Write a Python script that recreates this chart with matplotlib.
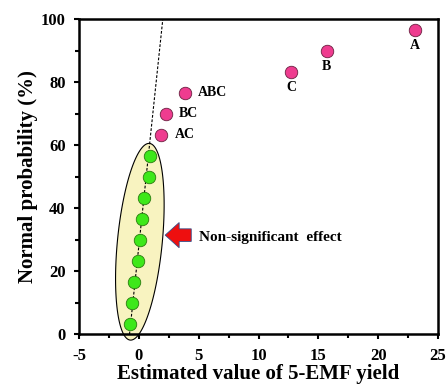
import numpy as np
import matplotlib
matplotlib.use("Agg")
import matplotlib.pyplot as plt
from matplotlib.patches import Polygon, FancyArrow

plt.rcParams['font.family'] = ['Liberation Serif', 'DejaVu Serif']
plt.rcParams['font.weight'] = 'bold'
plt.rcParams['axes.unicode_minus'] = False

# Normal probability plot of effects (15 effects)
green_x = [-0.75, -0.61, -0.42, -0.11, 0.06, 0.25, 0.42, 0.84, 0.90]
green_y = [3.33, 10.0, 16.67, 23.33, 30.0, 36.67, 43.33, 50.0, 56.67]

sig_labels = ['AC', 'BC', 'ABC', 'C', 'B', 'A']
sig_x = [1.87, 2.23, 3.84, 12.73, 15.7, 23.1]
sig_y = [63.33, 70.0, 76.67, 83.33, 90.0, 96.67]

# reference line of the normal distribution
line_x = [-0.78, 2.0]
line_y = [0, 100]

x_ticks = [-5, 0, 5, 10, 15, 20, 25]
y_ticks = [0, 20, 40, 60, 80, 100]

W, H = 446, 392
fig = plt.figure(figsize=(W / 100, H / 100), dpi=100)
ax_l, ax_r, ax_t, ax_b = 79, 438, 19.5, 334.3
ax = fig.add_axes([ax_l / W, 1 - ax_b / H, (ax_r - ax_l) / W, (ax_b - ax_t) / H])

ax.set_xlim(-5, 25)
ax.set_ylim(0, 100)

# shaded ellipse around the non-significant effects, built in screen units
sx = (ax_r - ax_l) / 30.0
sy = (ax_b - ax_t) / 100.0
gx = np.array(green_x)
gy = np.array(green_y)
cx = gx.mean() + 0.02
cy = (gy.min() + gy.max()) / 2 - 0.6
a_px, b_px = 98.8, 22.4
tilt = np.deg2rad(5.6)
t = np.linspace(0, 2 * np.pi, 300)
ex = a_px * np.cos(t) * np.sin(tilt) + b_px * np.sin(t) * np.cos(tilt)
ey = a_px * np.cos(t) * np.cos(tilt) - b_px * np.sin(t) * np.sin(tilt)
pts = np.column_stack([cx + ex / sx, cy + ey / sy])
ax.add_patch(Polygon(pts, closed=True, facecolor='#f8f3c0', edgecolor='black',
                     linewidth=0.8, zorder=1, clip_on=False))

ax.plot(line_x, line_y, color='black', linestyle=(0, (2.5, 1.5)), linewidth=0.8, zorder=2)

ax.plot(green_x, green_y, 'o', markersize=9.0, markerfacecolor='#3ee81a',
        markeredgecolor='#2a7a10', markeredgewidth=0.6, zorder=3)
ax.plot(sig_x, sig_y, 'o', markersize=9.0, markerfacecolor='#ee3c8f',
        markeredgecolor='#6a2040', markeredgewidth=0.6, zorder=3)

for lab, x, y in zip(sig_labels, sig_x, sig_y):
    if lab in ('AC', 'BC', 'ABC'):
        ax.annotate(lab, (x, y), xytext=(9.5, 0), textcoords='offset points',
                    ha='left', va='center', fontsize=10, fontweight='bold')
    else:
        ax.annotate(lab, (x, y), xytext=(0, -11.5), textcoords='offset points',
                    ha='center', va='center', fontsize=10, fontweight='bold')

ax.add_patch(FancyArrow(4.38, 31.5, -2.18, 0, width=4.0, head_width=8.0,
                        head_length=1.17, length_includes_head=True,
                        facecolor='#ee0f0f', edgecolor='#34508c', linewidth=0.6,
                        zorder=4))
ax.text(4.99, 30.8, 'Non-significant  effect', ha='left', va='center',
        fontsize=11, fontweight='bold')

ax.set_xticks(x_ticks)
ax.set_yticks(y_ticks)
ax.set_xticks(np.arange(-2.5, 25, 5), minor=True)
ax.set_yticks(np.arange(10, 100, 20), minor=True)
ax.tick_params(axis='both', which='major', direction='out', length=3.6, width=1.5,
               labelsize=12, pad=6)
ax.tick_params(axis='both', which='minor', direction='out', length=2.8, width=1.5)
for lab in ax.get_xticklabels() + ax.get_yticklabels():
    lab.set_fontweight('bold')
for s in ax.spines.values():
    s.set_linewidth(1.8)

ax.set_xlabel('Estimated value of 5-EMF yield', fontsize=15, fontweight='bold', labelpad=0)
ax.set_ylabel('Normal probability (%)', fontsize=15, fontweight='bold', labelpad=2)

fig.savefig('out.png', dpi=100)
